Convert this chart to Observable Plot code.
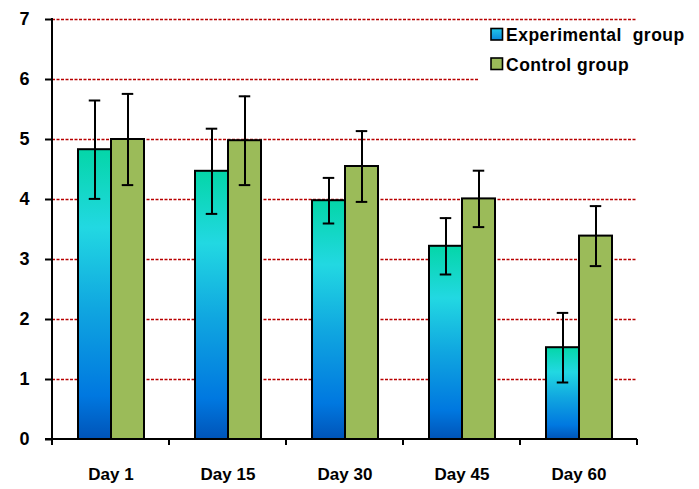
<!DOCTYPE html>
<html>
<head>
<meta charset="utf-8">
<script src="https://cdn.jsdelivr.net/npm/d3@7"></script>
<script src="https://cdn.jsdelivr.net/npm/@observablehq/plot@0.6"></script>
<style>
  html, body { margin: 0; padding: 0; background: #ffffff; }
  #chart svg { display: block; }
</style>
</head>
<body>
<div id="chart"></div>
<script>
const days = ["Day 1", "Day 15", "Day 30", "Day 45", "Day 60"];
const groups = ["Experimental group", "Control group"];
const expMean = [4.83, 4.47, 3.98, 3.22, 1.53];
const expErr = [0.82, 0.71, 0.38, 0.47, 0.58];
const ctrlMean = [5.00, 4.98, 4.55, 4.01, 3.39];
const ctrlErr = [0.76, 0.74, 0.59, 0.47, 0.50];
const yTicks = [0, 1, 2, 3, 4, 5, 6, 7];
const gridTicks = [1, 2, 3, 4, 5, 6, 7];

const rows = days.flatMap((d, i) => [
  {day: d, group: groups[0], value: expMean[i], err: expErr[i]},
  {day: d, group: groups[1], value: ctrlMean[i], err: ctrlErr[i]}
]);
const expRows = rows.filter(r => r.group === groups[0]);
const ctrlRows = rows.filter(r => r.group === groups[1]);

const FONT = "'Liberation Sans', Arial, sans-serif";
const NS = "http://www.w3.org/2000/svg";

function defs() {
  const g = document.createElementNS(NS, "g");
  g.innerHTML = `<defs>
    <linearGradient id="expGrad" x1="0" y1="0" x2="0" y2="1">
      <stop offset="0" stop-color="#04D6A8"/>
      <stop offset="0.27" stop-color="#22D8E2"/>
      <stop offset="0.55" stop-color="#10A6E0"/>
      <stop offset="0.85" stop-color="#0078E0"/>
      <stop offset="1" stop-color="#0054B8"/>
    </linearGradient>
    <linearGradient id="swGrad" x1="0" y1="0" x2="0" y2="1">
      <stop offset="0" stop-color="#22C8EA"/>
      <stop offset="1" stop-color="#0A88DC"/>
    </linearGradient>
  </defs>`;
  return g;
}

function overlay(index, scales, values, dims) {
  const g = document.createElementNS(NS, "g");
  const y = scales.y;
  const left = dims.marginLeft, right = dims.width - dims.marginRight;
  const y0 = y(0), yTop = y(7);
  let bounds;
  const fx = scales.fx;
  if (fx) {
    const bwRaw = fx.bandwidth;
    const bw = typeof bwRaw === "function" ? bwRaw() : bwRaw;
    bounds = days.map(d => fx(d));
    bounds.push(fx(days[days.length - 1]) + bw);
  } else {
    const step = (right - left) / days.length;
    bounds = d3.range(days.length + 1).map(i => left + i * step);
  }
  let html = "";
  html += `<line x1="${left - 7}" x2="${right}" y1="${y0}" y2="${y0}" stroke="black" stroke-width="2"/>`;
  for (const b of bounds) {
    html += `<line x1="${b}" x2="${b}" y1="${y0}" y2="${y0 + 6}" stroke="black" stroke-width="2"/>`;
  }
  html += `<line x1="${left}" x2="${left}" y1="${yTop - 1}" y2="${y0 + 6}" stroke="black" stroke-width="2"/>`;
  // legend
  html += `<rect x="478" y="23" width="216" height="61" fill="white"/>`;
  html += `<rect x="491" y="28.5" width="11.5" height="11.5" fill="url(#swGrad)" stroke="black" stroke-width="1.6"/>`;
  html += `<rect x="491" y="58" width="11.5" height="11.5" fill="#9BBB59" stroke="black" stroke-width="1.6"/>`;
  html += `<text x="506" y="40.5" text-anchor="start" font-family="${FONT}" font-weight="bold" font-size="17.5" letter-spacing="0.5" fill="black">${groups[0].replace(" ", "\u00a0 ")}</text>`;
  html += `<text x="506" y="71" text-anchor="start" font-family="${FONT}" font-weight="bold" font-size="17.5" letter-spacing="0.5" fill="black">${groups[1]}</text>`;
  g.innerHTML = html;
  return g;
}

const chart = Plot.plot({
  width: 699,
  height: 489,
  marginLeft: 50,
  marginRight: 61,
  marginTop: 19,
  marginBottom: 50,
  style: {fontFamily: FONT, background: "white"},
  fx: {domain: days, padding: 0, label: null},
  x: {domain: groups, paddingInner: 0, paddingOuter: 0.755, axis: null},
  y: {domain: [0, 7], label: null},
  marks: [
    Plot.frame({stroke: "none", render: defs, facet: "super"}),
    Plot.ruleY(gridTicks, {stroke: "#B80000", strokeOpacity: 1, strokeWidth: 1.4, strokeDasharray: "3,1.5"}),
    Plot.barY(expRows, {fx: "day", x: "group", y: "value", fill: "url(#expGrad)", stroke: "black", strokeWidth: 2}),
    Plot.barY(ctrlRows, {fx: "day", x: "group", y: "value", fill: "#9BBB59", stroke: "black", strokeWidth: 2}),
    Plot.ruleX(rows, {fx: "day", x: "group", y1: d => d.value - d.err, y2: d => d.value + d.err, stroke: "black", strokeWidth: 2}),
    Plot.tickY(rows, {fx: "day", x: "group", y: d => d.value - d.err, stroke: "black", strokeWidth: 2, insetLeft: 10.75, insetRight: 10.75}),
    Plot.tickY(rows, {fx: "day", x: "group", y: d => d.value + d.err, stroke: "black", strokeWidth: 2, insetLeft: 10.75, insetRight: 10.75}),
    Plot.axisY(yTicks, {tickSize: 7, tickPadding: 16, strokeWidth: 2, fontSize: 18, fontWeight: "bold", fill: "black", tickFormat: d => String(d)}),
    Plot.axisFx({anchor: "bottom", tickSize: 0, tickPadding: 28, fontSize: 17, fontWeight: "bold", fill: "black", label: null}),
    Plot.frame({stroke: "none", render: overlay, facet: "super"})
  ]
});
document.getElementById("chart").appendChild(chart);
</script>
</body>
</html>
